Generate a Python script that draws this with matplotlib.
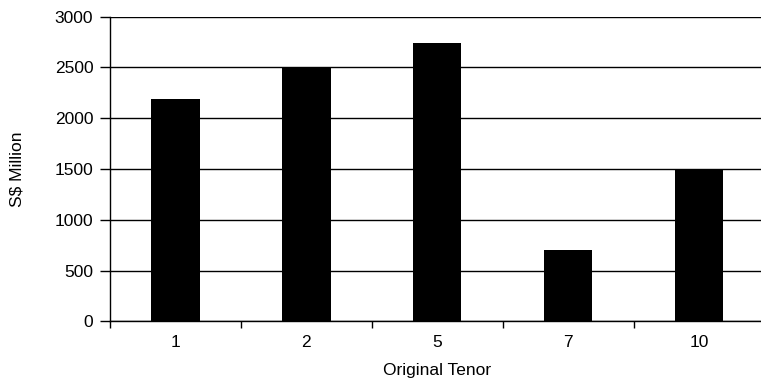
import numpy as np
from matplotlib import pyplot as plt

# values
tenors = ['1', '2', '5', '7', '10']
amounts = [2190, 2500, 2740, 700, 1500]
yTicks = [0, 500, 1000, 1500, 2000, 2500, 3000]

plt.rcParams['font.family'] = 'Liberation Sans'
fs = 12.5

fig = plt.figure(figsize=(7.61, 3.82), dpi=100)
# plot box: left spine at x=110, bottom at y=321, top at y=16.5 (right edge runs past the image)
ax = fig.add_axes([110/761, 1 - 321.3/382, 654.5/761, (321.3 - 16.5)/382])

pos = np.arange(len(tenors))
ax.bar(pos, amounts, width=0.37, color='black', zorder=3)

ax.set_xlim(-0.5, len(tenors) - 0.5)
ax.set_ylim(0, 3000)
ax.set_yticks(yTicks)
ax.set_yticklabels([str(v) for v in yTicks], fontsize=fs)
ax.yaxis.grid(True, color='black', linewidth=1.0, zorder=0)

# category labels centred, ticks on the boundaries between categories
ax.set_xticks(np.arange(len(tenors) + 1) - 0.5)
ax.set_xticklabels([])
ax.set_xticks(pos, minor=True)
ax.set_xticklabels(tenors, minor=True, fontsize=fs)
ax.tick_params(axis='x', which='major', direction='out', length=5, width=1, color='black')
ax.tick_params(axis='x', which='minor', length=0, pad=10)
ax.tick_params(axis='y', direction='out', length=7, width=1, pad=5)

for side in ['top', 'right']:
    ax.spines[side].set_visible(False)
ax.spines['left'].set_linewidth(1)
ax.spines['bottom'].set_linewidth(1)

ax.set_xlabel('Original Tenor', fontsize=fs, labelpad=9)
ax.set_ylabel('S$ Million', fontsize=fs, labelpad=22)

fig.savefig('out.png', dpi=100)
